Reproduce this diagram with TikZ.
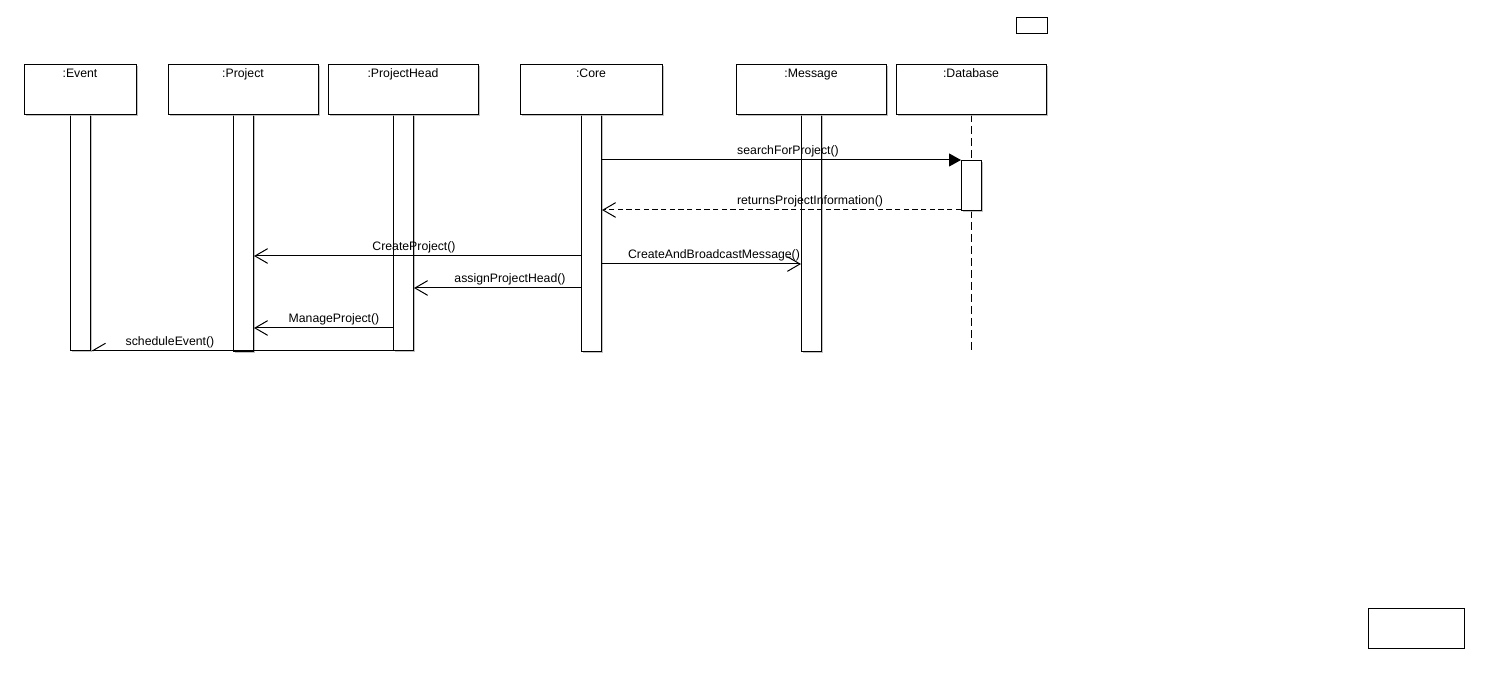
\documentclass[tikz,border=0pt]{standalone}
\usepackage{fontspec}
\setmainfont{Liberation Sans}
\usetikzlibrary{arrows.meta,shadows}
\begin{document}
\begin{tikzpicture}[x=0.75pt,y=-0.75pt,line width=0.75pt,
  shade box/.style={draw=black,fill=white,inner sep=0pt,
    drop shadow={shadow xshift=1.2pt,shadow yshift=-1.2pt,fill=black!30,opacity=0.8}},
  objbox/.style={shade box,anchor=north west,minimum height=37.5pt},
  actbar/.style={shade box,anchor=north west,minimum width=15pt},
  plainbox/.style={draw=black,fill=white,inner sep=0pt,anchor=north west},
  txt/.style={font=\fontsize{9.2}{11}\selectfont,inner sep=0pt,anchor=base},
  call/.style={-{Triangle[length=9pt,width=9.75pt]}},
  reply/.style={dash pattern=on 4pt off 2.5pt,-{Straight Barb[length=9.5pt,width=11pt]}},
  msg/.style={-{Straight Barb[length=9.5pt,width=11pt]}},
  halfmsg/.style={-{Straight Barb[length=9.5pt,width=11pt,harpoon,swap]}},
  lifeline/.style={dash pattern=on 6pt off 3pt}]
\useasboundingbox (0,0) rectangle (1488,680);

% spare boxes
\node[plainbox,minimum width=23.25pt,minimum height=12pt] (spareA) at (1016,17) {};
\node[plainbox,minimum width=72pt,minimum height=30pt] (spareB) at (1368,608) {};

% Database lifeline (dashed)
\coordinate (dbTop) at (971,114);
\coordinate (dbEnd) at (971,350);
\draw[lifeline] (dbTop) -- (dbEnd);

% activation bars
\node[actbar,minimum height=177pt] (evBar) at (70,114) {};
\node[actbar,minimum height=177.75pt] (prBar) at (233,114) {};
\node[actbar,minimum height=177pt] (phBar) at (393,114) {};
\node[actbar,minimum height=177.75pt] (coBar) at (581,114) {};
\node[actbar,minimum height=177.75pt] (meBar) at (801,114) {};
\node[actbar,minimum height=37.5pt] (dbAct) at (961,160) {};

% object headers
\node[objbox,minimum width=84pt] (ev) at (24,64) {};
\node[objbox,minimum width=112.5pt] (pr) at (168,64) {};
\node[objbox,minimum width=112.5pt] (ph) at (328,64) {};
\node[objbox,minimum width=106.5pt] (co) at (520,64) {};
\node[objbox,minimum width=112.5pt] (me) at (736,64) {};
\node[objbox,minimum width=112.5pt] (db) at (896,64) {};

\node[txt] (evT) at (80,78) {:Event};
\node[txt] (prT) at (243,78) {:Project};
\node[txt] (phT) at (403,78) {:ProjectHead};
\node[txt] (coT) at (591,78) {:Core};
\node[txt] (meT) at (811,78) {:Message};
\node[txt] (dbT) at (971,78) {:Database};

% messages
\draw[call] (coBar.east |- 0,160) -- (dbAct.west |- 0,160);
\node[txt] (m1) at (788,155) {searchForProject()};

\draw[reply] (dbAct.west |- 0,210) -- (coBar.east |- 0,210);
\node[txt] (m2) at (810,205) {returnsProjectInformation()};

\draw[msg] (coBar.west |- 0,256) -- (prBar.east |- 0,256);
\node[txt] (m3) at (414,251) {CreateProject()};

\draw[msg] (coBar.east |- 0,264) -- (meBar.west |- 0,264);
\node[txt] (m4) at (714,259) {CreateAndBroadcastMessage()};

\draw[msg] (coBar.west |- 0,288) -- (phBar.east |- 0,288);
\node[txt] (m5) at (510,283) {assignProjectHead()};

\draw[msg] (phBar.west |- 0,328) -- (prBar.east |- 0,328);
\node[txt] (m6) at (334,323) {ManageProject()};

\draw[halfmsg] (phBar.west |- 0,350.6) -- (evBar.east |- 0,350.6);
\node[txt] (m7) at (170,346) {scheduleEvent()};
\end{tikzpicture}
\end{document}
